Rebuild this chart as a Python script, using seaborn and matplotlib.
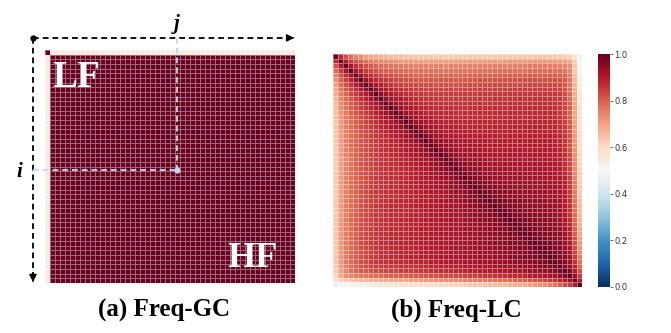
import numpy as np
import pandas as pd
import seaborn as sns
import matplotlib
matplotlib.use("Agg")
import matplotlib.pyplot as plt

N = 50
SERIF = ["Liberation Serif", "DejaVu Serif"]

# ---------------- Freq-GC (left) ----------------
gc_corner_value = 1.0      # cell (0, 0)
gc_edge_value = 0.55       # rest of first row / first column
gc_inner_value = 1.0       # every other cell

# ---------------- Freq-LC (right) ----------------
# closeness to the diagonal, by distance |i - j|
lc_decay = [1.00, 0.75, 0.62, 0.53, 0.46, 0.40, 0.35, 0.31, 0.28, 0.25,
            0.22, 0.20, 0.18, 0.165, 0.15, 0.14, 0.13, 0.12, 0.11, 0.10,
            0.09, 0.085, 0.08, 0.07, 0.065, 0.06, 0.055, 0.05, 0.045, 0.04,
            0.04, 0.035, 0.03, 0.03, 0.025, 0.025, 0.02, 0.02, 0.02, 0.015,
            0.015, 0.01, 0.01, 0.01, 0.005, 0.005, 0.005, 0.0, 0.0, 0.0]
# level far from the diagonal, by index
lc_floor = [0.74, 0.74, 0.75, 0.75, 0.76, 0.77, 0.77, 0.78, 0.79, 0.79,
            0.80, 0.81, 0.81, 0.82, 0.82, 0.83, 0.83, 0.84, 0.84, 0.85,
            0.85, 0.86, 0.86, 0.87, 0.87, 0.88, 0.88, 0.89, 0.89, 0.90,
            0.90, 0.90, 0.91, 0.91, 0.91, 0.92, 0.92, 0.92, 0.92, 0.93,
            0.93, 0.93, 0.93, 0.93, 0.93, 0.93, 0.93, 0.93, 0.93, 0.93]
# lightening of the border rows / columns, by index
lc_edge_penalty = [0.20, 0.12, 0.085, 0.06, 0.045, 0.03, 0.02, 0.012, 0.006, 0.0,
                   0.0, 0.0, 0.0, 0.0, 0.0, 0.0, 0.0, 0.0, 0.0, 0.0,
                   0.0, 0.0, 0.0, 0.0, 0.0, 0.0, 0.0, 0.0, 0.0, 0.0,
                   0.0, 0.0, 0.0, 0.0, 0.0, 0.0, 0.0, 0.0, 0.0, 0.0,
                   0.0, 0.0, 0.0, 0.0, 0.005, 0.015, 0.035, 0.08, 0.18, 0.31]

cbar_ticks = [0.0, 0.2, 0.4, 0.6, 0.8, 1.0]
captions = ["(a) Freq-GC", "(b) Freq-LC"]
region_labels = ["LF", "HF"]
index_labels = ["i", "j"]
marked_point = (26.4, 25.8)   # (column j, row i) in cell units

# ---------------- build matrices ----------------
gc = np.full((N, N), gc_inner_value)
gc[0, :] = gc_edge_value
gc[:, 0] = gc_edge_value
gc[0, 0] = gc_corner_value
gc_df = pd.DataFrame(gc)

ii, jj = np.meshgrid(np.arange(N), np.arange(N), indexing="ij")
dec = np.array(lc_decay)[np.abs(ii - jj)]
fl = np.array(lc_floor)
F = (fl[ii] + fl[jj]) / 2
pe = np.array(lc_edge_penalty)
P = np.maximum(pe[ii], pe[jj]) + 0.3 * np.minimum(pe[ii], pe[jj])
lc = F + (1 - F) * dec - P * (1 - dec)
np.fill_diagonal(lc, 1.0)
lc_df = pd.DataFrame(lc)

# ---------------- figure ----------------
W, H = 671, 333
fig = plt.figure(figsize=(W / 100, H / 100), dpi=100)
ax1 = fig.add_axes([45 / W, 1 - 283 / H, 250 / W, 233 / H])
ax2 = fig.add_axes([333 / W, 1 - 287 / H, 249 / W, 233 / H])
cax = fig.add_axes([598 / W, 1 - 287 / H, 12 / W, 233 / H])

grid_kw = dict(cmap="RdBu_r", vmin=0, vmax=1, linewidths=0.4,
               linecolor=(1, 1, 1, 0.4), xticklabels=False, yticklabels=False)
sns.heatmap(gc_df, ax=ax1, cbar=False, **grid_kw)
sns.heatmap(lc_df, ax=ax2, cbar=True, cbar_ax=cax,
            cbar_kws={"ticks": cbar_ticks}, **grid_kw)
cax.tick_params(labelsize=6, length=2, width=0.5, pad=1,
                colors="#333333")

# ---------------- annotations on left panel ----------------
x0, y0 = -2.4, -2.6
x_end, y_end = 50.4, 50.4
dash = (0, (3.2, 2.2))
ax1.plot([x0, x_end - 0.8], [y0, y0], color="black", lw=1.3, ls=dash,
         clip_on=False)
ax1.plot([x0, x0], [y0, y_end - 0.8], color="black", lw=1.3, ls=dash,
         clip_on=False)
ax1.annotate("", xy=(x_end, y0), xytext=(x_end - 1.5, y0),
             arrowprops=dict(arrowstyle="-|>", color="black", lw=1,
                             mutation_scale=11), annotation_clip=False)
ax1.annotate("", xy=(x0, y_end), xytext=(x0, y_end - 1.5),
             arrowprops=dict(arrowstyle="-|>", color="black", lw=1,
                             mutation_scale=11), annotation_clip=False)
ax1.plot([x0], [y0], "o", color="black", ms=3.5, clip_on=False)

mj, mi = marked_point
light = "#c6d6ee"
ax1.plot([mj, mj], [y0, mi], color=light, lw=1.3, ls=dash, clip_on=False)
ax1.plot([x0, mj], [mi, mi], color=light, lw=1.3, ls=dash, clip_on=False)
ax1.plot([mj], [mi], "o", color=light, ms=3.5, clip_on=False)

ax1.text(mj, -5.6, index_labels[1], ha="center", va="center", fontsize=15,
         fontweight="bold", fontstyle="italic", family=SERIF)
ax1.text(-5.2, mi + 0.3, index_labels[0], ha="center", va="center", fontsize=15,
         fontweight="bold", fontstyle="italic", family=SERIF)

ax1.text(0.03, 0.955, region_labels[0], transform=ax1.transAxes, ha="left",
         va="top", fontsize=27, fontweight="bold", color="white", family=SERIF)
ax1.text(0.93, 0.07, region_labels[1], transform=ax1.transAxes, ha="right",
         va="baseline", fontsize=26, fontweight="bold", color="white",
         family=SERIF)

ax1.set_xlim(0, N)
ax1.set_ylim(N, 0)

fig.text(164 / W, 1 - 310 / H, captions[0], ha="center", va="center",
         fontsize=18, fontweight="bold", family=SERIF)
fig.text(456 / W, 1 - 310 / H, captions[1], ha="center", va="center",
         fontsize=18, fontweight="bold", family=SERIF)

fig.savefig("out.png", dpi=100)
